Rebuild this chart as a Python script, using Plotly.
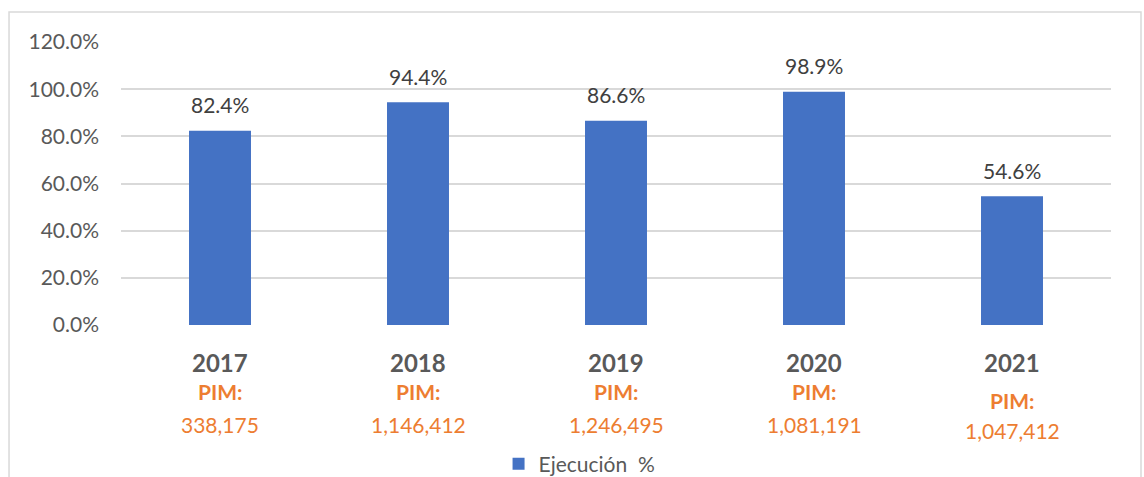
import plotly.graph_objects as go

years = ["2017", "2018", "2019", "2020", "2021"]
ejecucion = [82.4, 94.4, 86.6, 98.9, 54.6]
pim = ["338,175", "1,146,412", "1,246,495", "1,081,191", "1,047,412"]
y_ticks = [0, 20, 40, 60, 80, 100, 120]
y_tick_labels = ["0.0%", "20.0%", "40.0%", "60.0%", "80.0%", "100.0%", "120.0%"]

FONT = "Lato"
BLUE = "#4472C4"
ORANGE = "#ED7D31"
GRID = "#D9D9D9"

fig = go.Figure()
fig.add_trace(go.Bar(
    x=years, y=ejecucion, name="Ejecución\u00a0\u00a0%",
    marker=dict(color=BLUE, line=dict(width=0)),
    hoverinfo="skip",
))

for i, (yr, v, p) in enumerate(zip(years, ejecucion, pim)):
    fig.add_annotation(x=i, y=v, xref="x", yref="y", text=f"{v:.1f}%",
                       showarrow=False, yanchor="middle", yshift=26,
                       font=dict(family=FONT, size=21, color="#404040"))
    fig.add_annotation(x=i, y=0, xref="x", yref="paper", text=f"<b>{yr}</b>",
                       showarrow=False, yanchor="middle", yshift=-37,
                       font=dict(family=FONT, size=24, color="#595959"))
    s1 = 9 if i == 4 else 0
    s2 = 6 if i == 4 else 0
    fig.add_annotation(x=i, y=0, xref="x", yref="paper", text="<b>PIM:</b>",
                       showarrow=False, yanchor="middle", yshift=-66 - s1,
                       font=dict(family=FONT, size=21, color=ORANGE))
    fig.add_annotation(x=i, y=0, xref="x", yref="paper", text=p,
                       showarrow=False, yanchor="middle", yshift=-99 - s2,
                       font=dict(family=FONT, size=21, color=ORANGE))

fig.update_layout(
    width=1144, height=477,
    margin=dict(l=121, r=33, t=42, b=152, autoexpand=False),
    paper_bgcolor="white", plot_bgcolor="white",
    bargap=0.687,
    showlegend=True,
    legend=dict(orientation="h", xref="container", yref="container",
                x=0.4358, xanchor="left", y=0.0273, yanchor="middle",
                font=dict(family=FONT, size=21, color="#595959"),
                bgcolor="rgba(0,0,0,0)"),
    shapes=[dict(type="rect", xref="paper", yref="paper",
                 x0=-0.1131, x1=1.0303, y0=-0.56, y1=1.106,
                 line=dict(color=GRID, width=1.5), layer="below")],
    xaxis=dict(type="category", showticklabels=False, showgrid=False, showline=False,
               zeroline=False, range=[-0.5, 4.5], fixedrange=True),
    yaxis=dict(range=[0, 120], tickvals=y_ticks, ticktext=y_tick_labels,
               showgrid=True, gridcolor=GRID, gridwidth=1.5, zeroline=False,
               showline=False, ticks="", ticklen=0, automargin=False,
               ticklabelstandoff=21,
               tickfont=dict(family=FONT, size=21, color="#595959")),
)

fig.write_html("out.html")
